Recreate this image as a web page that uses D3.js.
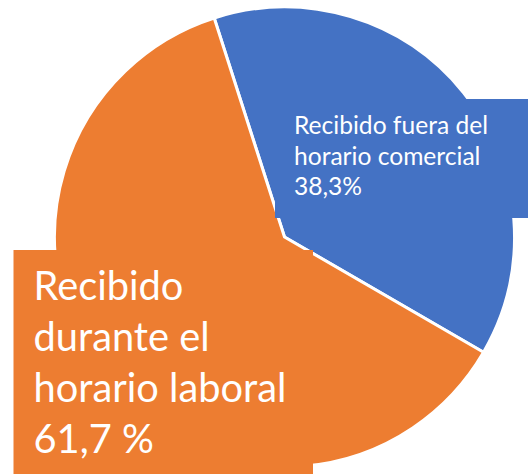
<!DOCTYPE html>
<html>
<head>
<meta charset="utf-8">
<script src="https://cdn.jsdelivr.net/npm/d3@7"></script>
<style>
  html, body { margin: 0; padding: 0; background: #fff; }
  svg { display: block; }
  text { font-family: Lato, "Open Sans", sans-serif; fill: #fff; }
</style>
</head>
<body>
<svg id="chart" width="528" height="474"></svg>
<script>
// data
var categories = ["Recibido fuera del horario comercial", "Recibido durante el horario laboral"];
var values = [38.3, 61.7];
var labelLines = [
    ["Recibido fuera del", "horario comercial"],
    ["Recibido", "durante el", "horario laboral"]
];
var percentSuffix = ["%", " %"];
var colors = ["#4472C4", "#ED7D31"];

var width = 528,
    height = 474,
    cx = 284.5,
    cy = 237,
    radius = 230;

var svg = d3.select('#chart');

var pie = d3.pie()
    .sort(null)
    .value(function (d) { return d; })
    .startAngle(-17.8 * Math.PI / 180)
    .endAngle((360 - 17.8) * Math.PI / 180);

var arc = d3.arc()
    .innerRadius(0)
    .outerRadius(radius);

var g = svg.append('g')
    .attr('transform', 'translate(' + cx + ',' + cy + ')');

g.selectAll('path')
    .data(pie(values))
    .enter()
    .append('path')
    .attr('d', arc)
    .attr('fill', function (d, i) { return colors[i]; })
    .attr('stroke', '#fff')
    .attr('stroke-width', 3)
    .attr('stroke-linejoin', 'round');

// label boxes: x, y, w, h, text x, first baseline, line step, widest line target
var boxes = [
    {x: 275, y: 99, w: 253, h: 119, tx: 294, ty: 134, step: 30.5, fit: 194},
    {x: 13.5, y: 250, w: 299.5, h: 224, tx: 33.5, ty: 300, step: 51, fit: 253}
];

boxes.forEach(function (b, i) {
    var lines = labelLines[i].concat([String(values[i]).replace('.', ',') + percentSuffix[i]]);

    svg.append('rect')
        .attr('x', b.x)
        .attr('y', b.y)
        .attr('width', b.w)
        .attr('height', b.h)
        .attr('fill', colors[i]);

    var t = svg.append('g');
    var texts = t.selectAll('text')
        .data(lines)
        .enter()
        .append('text')
        .attr('x', b.tx)
        .attr('y', function (d, k) { return b.ty + k * b.step; })
        .style('font-size', '20px')
        .text(function (d) { return d; });

    // size the font so the widest line matches the picture
    var widest = d3.max(texts.nodes(), function (n) { return n.getComputedTextLength(); });
    texts.style('font-size', (20 * b.fit / widest) + 'px');
});
</script>
</body>
</html>
